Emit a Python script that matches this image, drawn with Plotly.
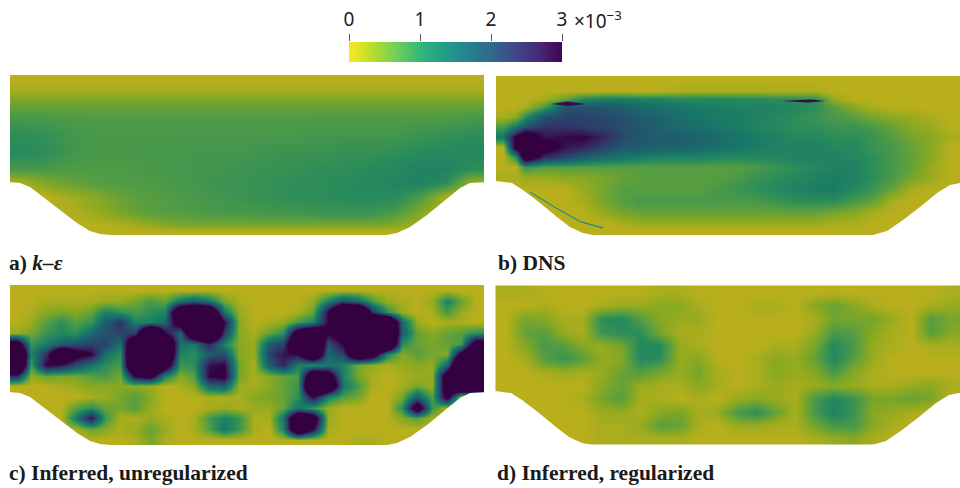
import numpy as np
import plotly.graph_objects as go

W, H = 960, 488
BAR_TICKS = [0, 1, 2, 3]
BAR_EDGES = [0, 0.1, 0.2, 0.3, 0.4, 0.5, 0.6, 0.7, 0.8, 0.9, 1, 1.1, 1.2, 1.3, 1.4, 1.5, 1.6, 1.7, 1.8, 1.9, 2,
             2.1, 2.2, 2.3, 2.4, 2.5, 2.6, 2.7, 2.8, 2.9, 3]

# Fields in units of 1e-4 (values above 30 are saturated in the picture)
A_X = [13, 37, 62, 87, 112, 137, 162, 187, 212, 237, 262, 287, 312, 337, 362, 387, 412, 437, 462]
A_Y = [4, 14, 26, 42, 60, 78, 94, 108, 122, 138, 150, 157]
A_Z = [
 [1]*19,
 [2]*19,
 [5,5,5,5,5,5,5,5,5,5,5,5,5,5,5,5,5,5,5],
 [8,8,7.5,7.5,7.5,7.5,7.5,7.5,7.5,7.5,7.5,7.5,7.5,7.5,7.5,7.5,7.5,7.5,8],
 [10,9.5,8.5,8,8,8,8,8,8,8,8,8,8.5,8.5,8.5,8.5,9,9.5,10],
 [10.5,10,8.5,8,8,8,8,8.5,8.5,8.5,9,9,9,9.5,9.5,10,10.5,11,11],
 [8,8,7.5,7.5,7.5,8,8,8.5,8.5,9,9,9.5,10,10,10.5,11,12,12,10],
 [2,4.5,6,7,7.5,7.5,8,8.5,9,9,9.5,10,10,10.5,11,11.5,12,10,3],
 [1,1,2.5,4,6,7,7.5,8,8.5,9,9.5,10,10,10.5,10.5,10.5,7.5,2,1],
 [1,1,1.5,3,5,6.5,7,7.5,8,8,8.5,8.5,9,9,9,7.5,4,1,1],
 [1,1,1,1,1.5,3,4.5,5,5,5,5,5,5,5,5,4,2,1,1],
 [1]*19,
]

B_X = [6.5, 20, 29, 48, 68, 87, 106, 126, 145, 164, 184, 203, 222, 242, 261, 280, 300, 319, 338, 358, 377, 396, 416, 435, 454.5]
B_Y = [6, 16, 24, 32, 42, 52, 62, 72, 82, 92, 102, 114, 126, 138, 148, 156]
B_Z = [
 [1]*25,
 [1,1,1,1,1,1,1,1,1,1,2,2,2,2,2,2,2,2,1,1,1,1,1,1,1],
 [1,1,1,2,6,11,13,13,12,12,11,11,11,11,11,10,10,10,3,1,1,1,1,1,1],
 [1,1,2,8,19,20,19,18,16,15,14,13,13,12,12,12,11,10,7,4,2,1,1,1,1],
 [2,4,10,20,22,22,21,20,18,17,15,14,13,13,12,11,10,9,8,7,5,4,3,2,1],
 [8,14,20,24,24,23,22,20,19,17,16,15,14,13,12,11,10,10,9,9,8,6,4,3,1],
 [14,32,40,28,29,30,26,21,19,18,18,17,16,14,13,12,11,11,10,10,9,7,5,4,2],
 [1,35,45,35,28,26,22,19,18,17,17,16,15,14,13,12,12,12,11,11,9,8,6,4,1],
 [1,10,40,25,22,18,16,14,13,12,12,12,11,11,11,11,12,12,12,11,10,8,6,4,1],
 [1,1,9,7,7,7,7,7,7,7,7,7,7,7,8,9,10,11,12,12,10,8,6,3,1],
 [2,2,3,3,4,4,5,6,7,7,7,7,7,8,9,10,11,12,13,12,10,8,5,3,1],
 [1,1,1,1,1,3,5,7,7,7,7,7,8,9,10,11,12,13,13,11,9,6,2,1,1],
 [1,1,1,1,1,2,5,7,8,8,8,8,8,8,8,9,10,10,10,8,6,2,1,1,1],
 [1,1,1,1,1,1,3,5,6,6,6,6,6,6,6,6,6,6,5,4,2,1,1,1,1],
 [1,1,1,1,1,1,1,2,3,3,3,3,3,3,3,3,3,3,2,2,1,1,1,1,1],
 [1]*25,
]
B_STREAK_LOW_X = [34, 60, 85, 107]
B_STREAK_LOW_Y = [117, 133, 147, 153]
B_LENS1_X = [55, 72, 90, 72, 55]
B_LENS1_Y = [29, 26.5, 29, 31, 29]
B_LENS2_X = [285, 315, 330, 312, 285]
B_LENS2_Y = [26, 24.5, 26, 27.5, 26]

C_X = [8, 22, 37, 52, 67, 82, 96, 111, 126, 141, 156, 171, 185, 200, 215, 230, 245, 260, 274, 289, 304, 319, 334, 349, 363, 378, 393, 408, 423, 438, 452, 467]
C_Y = [5, 16, 27, 37, 48, 59, 69, 80, 91, 101, 112, 123, 133, 144, 155]
C_Z = [
 [1]*32,
 [1,1,2,2,2,2,3,3,5,8,6,14,18,14,5,2,1,1,1,1,3,12,20,16,8,3,2,1,3,12,6,1],
 [1,2,4,5,4,6,12,10,8,10,12,50,55,50,14,3,1,1,1,2,6,30,60,60,25,10,3,1,2,8,3,1],
 [1,3,7,10,7,9,18,24,12,12,16,40,60,60,30,4,1,2,3,8,12,30,60,60,60,60,16,3,1,2,2,1],
 [3,5,9,11,10,16,20,22,22,60,30,16,50,60,24,4,2,6,10,40,50,30,40,60,60,60,18,6,4,6,7,10],
 [40,9,13,18,20,22,22,15,50,60,55,15,14,26,12,4,3,18,22,50,60,20,30,60,60,60,10,6,5,6,8,40],
 [60,12,24,50,35,30,15,10,60,60,55,12,10,18,20,4,3,22,28,30,50,16,22,50,40,12,4,7,5,4,35,60],
 [60,8,30,28,20,14,10,8,60,60,40,9,10,28,30,5,2,18,26,12,10,14,12,5,3,2,3,4,3,16,60,60],
 [25,3,6,5,5,7,8,5,30,35,12,4,7,30,32,5,2,4,6,8,50,40,12,5,2,1,2,3,3,40,60,60],
 [1,1,1,2,3,4,4,4,4,3,1,2,4,16,18,3,2,4,6,9,60,50,14,8,2,1,2,5,3,40,60,60],
 [1,1,1,1,1,2,3,5,7,4,1,1,1,2,2,2,4,5,6,10,30,12,7,5,1,1,5,18,7,35,1,1],
 [1,1,1,1,7,10,6,5,7,3,1,1,1,2,3,2,3,3,6,14,9,3,1,1,1,1,10,40,9,1,1,1],
 [1,1,1,1,14,28,9,2,2,3,2,1,2,8,12,9,2,2,14,50,40,3,1,1,1,1,4,7,2,1,1,1],
 [1,1,1,1,2,6,4,2,3,6,3,1,2,7,14,9,2,1,12,50,30,2,1,1,1,1,1,1,1,1,1,1],
 [1,1,1,1,1,1,1,1,2,5,2,1,1,1,1,1,1,1,1,1,1,1,1,2,2,1,1,1,1,1,1,1],
]

D_X = [10, 29, 48, 68, 87, 106, 126, 145, 164, 184, 203, 222, 242, 261, 280, 300, 319, 338, 358, 377, 396, 416, 435, 455]
D_Y = [7, 20, 33, 47, 60, 73, 87, 100, 113, 127, 140, 153]
D_Z = [
 [2,2,1,1,1,1,1,1,2,2,1,1,1,1,1,1,1,1,1,1,1,1,1,2],
 [1,1,2,1,1,2,3,3,4,4,2,1,1,2,2,1,4,6,4,2,1,1,2,3],
 [1,5,4,2,2,10,11,7,4,3,3,1,1,1,1,1,2,5,5,5,3,1,7,5],
 [1,6,7,3,2,9,10,10,5,2,2,1,1,1,1,1,3,8,7,4,2,1,7,4],
 [1,4,8,7,4,3,5,11,11,3,2,1,1,1,2,2,5,11,8,3,2,1,2,2],
 [1,2,7,9,7,3,4,11,10,3,4,1,1,2,4,3,6,11,7,3,1,1,1,1],
 [1,1,2,3,2,3,6,7,5,3,5,2,1,2,4,3,4,8,4,2,1,1,1,1],
 [1,1,1,1,1,4,6,3,2,2,4,2,1,2,3,2,3,4,3,2,2,3,4,2],
 [1,1,1,1,2,5,7,2,2,1,2,1,3,4,3,2,8,11,9,5,5,6,5,1],
 [1,1,1,1,1,3,3,2,4,5,2,3,8,10,6,2,8,12,9,4,3,2,1,1],
 [1,1,1,1,1,2,2,3,7,6,2,1,3,3,2,2,5,8,8,4,2,1,1,1],
 [1,1,1,1,1,2,2,2,2,2,1,1,1,1,1,1,2,3,4,2,1,1,1,1],
]

HILL_LEFT_X = [0, 11, 21, 34, 51, 68, 81, 91, 101, 378, 388, 401, 418, 434, 451, 461, 475, 480, 480, -5, -5]
HILL_LEFT_Y = [107, 108, 112, 122, 135, 148, 156, 159, 160, 160, 158, 152, 140, 127, 113, 108, 107, 107, 170, 170, 107]
HILL_RIGHT_X = [0, 16, 27, 44, 61, 74, 87, 97, 377, 391, 407, 424, 441, 454, 464, 470, 470, -5, -5]
HILL_RIGHT_Y = [106, 108, 115, 128, 142, 152, 158, 160, 160, 156, 145, 132, 118, 110, 108, 108, 170, 170, 106]

LABELS = ["a) <i>k–ε</i>", "b) DNS", "c) Inferred, unregularized", "d) Inferred, regularized"]

VIRIDIS = [(68,1,84),(72,40,120),(62,73,137),(49,104,142),(38,130,142),(31,158,137),(53,183,121),(110,206,88),(181,222,43),(253,231,37)]
SHADE = 0.76
n = len(VIRIDIS) - 1
PANEL_SCALE = [[i / n, "rgb({:.0f},{:.0f},{:.0f})".format(*[c * SHADE for c in VIRIDIS[n - i]])] for i in range(n + 1)]
BAR_SCALE = [[i / n, "rgb{}".format(VIRIDIS[n - i])] for i in range(n + 1)]

fig = go.Figure()

panels = [
    (A_X, A_Y, A_Z, HILL_LEFT_X, HILL_LEFT_Y, (9, 484), (75, 235), 475),
    (B_X, B_Y, B_Z, HILL_RIGHT_X, HILL_RIGHT_Y, (496, 960), (75, 235), 464),
    (C_X, C_Y, C_Z, HILL_LEFT_X, HILL_LEFT_Y, (9, 484), (285, 445), 475),
    (D_X, D_Y, D_Z, HILL_RIGHT_X, HILL_RIGHT_Y, (495, 960), (285, 445), 465),
]
layout = {}
for k, (px, py, pz, hx, hy, dx, dy, xmax) in enumerate(panels, start=1):
    sx = "" if k == 1 else str(k)
    fig.add_trace(go.Heatmap(x=px, y=py, z=(np.array(pz, dtype=float) / 10).tolist(), zmin=0.06, zmax=3,
                             colorscale=PANEL_SCALE, showscale=False, zsmooth="best",
                             xaxis="x" + sx, yaxis="y" + sx, hoverinfo="skip"))
    if k == 2:
        fig.add_trace(go.Scatter(x=B_STREAK_LOW_X, y=B_STREAK_LOW_Y, mode="lines",
                                 line=dict(color="#2a8f80", width=1.3), xaxis="x2", yaxis="y2",
                                 showlegend=False, hoverinfo="skip"))
        for lx, ly in [(B_LENS1_X, B_LENS1_Y), (B_LENS2_X, B_LENS2_Y)]:
            fig.add_trace(go.Scatter(x=lx, y=ly, mode="lines", line=dict(width=0, color="#3c0a55"), fill="toself",
                                     fillcolor="#3c0a55", xaxis="x2", yaxis="y2", showlegend=False,
                                     hoverinfo="skip"))
    fig.add_trace(go.Scatter(x=hx, y=hy, mode="lines", line=dict(width=0, color="white"), fill="toself",
                             fillcolor="white", xaxis="x" + sx, yaxis="y" + sx, showlegend=False, hoverinfo="skip"))
    layout["xaxis" + sx] = dict(domain=[dx[0] / W, dx[1] / W], range=[0, xmax], visible=False, anchor="y" + sx)
    layout["yaxis" + sx] = dict(domain=[1 - dy[1] / H, 1 - dy[0] / H], range=[160, 0], visible=False, anchor="x" + sx)

bar_mid = [(a + b) / 2 for a, b in zip(BAR_EDGES[:-1], BAR_EDGES[1:])]
fig.add_trace(go.Heatmap(x=BAR_EDGES, y=[0, 1], z=[bar_mid], zmin=0, zmax=3,
                         colorscale=BAR_SCALE, showscale=False, zsmooth="best",
                         xaxis="x5", yaxis="y5", hoverinfo="skip"))
layout["xaxis5"] = dict(domain=[349 / W, 562 / W], range=[0, 3], anchor="y5", side="top", tickmode="array",
                        tickvals=BAR_TICKS, ticktext=[str(t) for t in BAR_TICKS], ticks="outside", ticklen=7,
                        tickwidth=1, tickcolor="#555", showgrid=False, zeroline=False, showline=False,
                        ticklabelstandoff=0, tickfont=dict(family="Noto Sans", size=19, color="#222"))
layout["yaxis5"] = dict(domain=[1 - 62 / H, 1 - 42 / H], range=[0, 1], anchor="x5", visible=False)

annotations = [
    dict(text="×10<sup>−3</sup>", x=572 / W, y=1 - 20 / H, xref="paper", yref="paper", xanchor="left",
         yanchor="middle", showarrow=False, font=dict(family="Noto Sans", size=19, color="#222")),
]
for text, lx, ly in zip(LABELS, [7, 496, 7, 495], [263, 263, 473, 473]):
    annotations.append(dict(text="<b>" + text + "</b>", x=lx / W, y=1 - ly / H, xref="paper", yref="paper",
                            xanchor="left", yanchor="middle", showarrow=False,
                            font=dict(family="Liberation Serif", size=21.5, color="#1a1a1a")))

fig.update_layout(width=W, height=H, margin=dict(l=0, r=0, t=0, b=0, pad=0, autoexpand=False),
                  paper_bgcolor="white", plot_bgcolor="white",
                  showlegend=False, annotations=annotations, **layout)
fig.write_html("out.html", config=dict(displayModeBar=False),
               post_script="document.body.style.margin='0';document.documentElement.style.overflow='hidden';")
